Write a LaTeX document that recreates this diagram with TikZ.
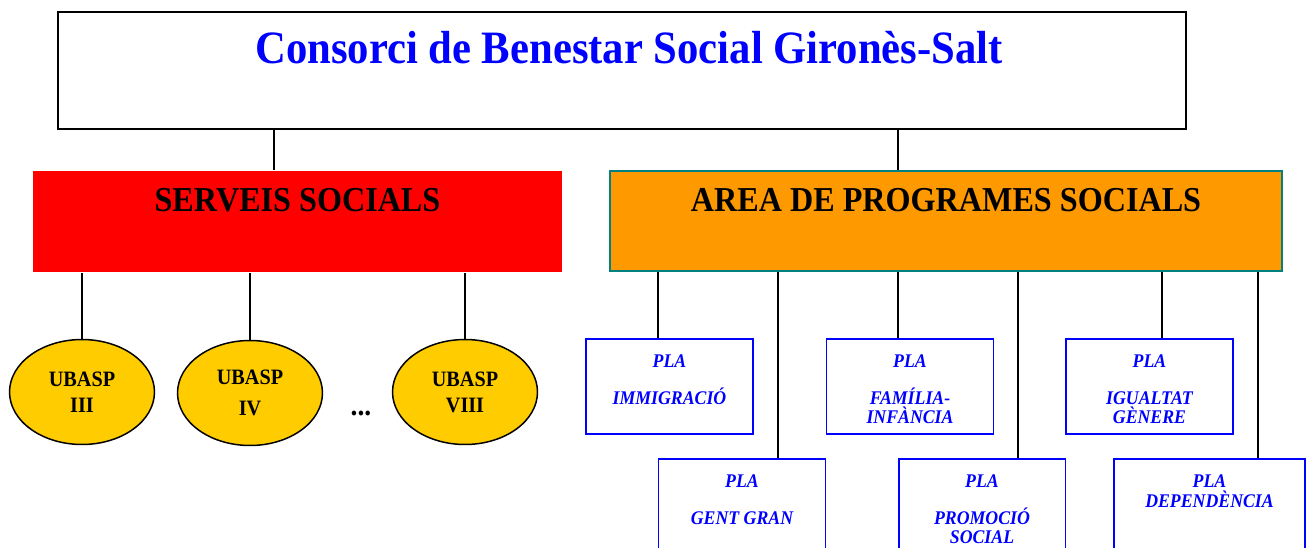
\documentclass[tikz,border=0pt]{standalone}
\usepackage{fontspec}
\setmainfont[FakeStretch=0.92]{Liberation Serif}
\usetikzlibrary{positioning,shapes.geometric}
\definecolor{titleblue}{HTML}{0000FF}
\definecolor{ssred}{HTML}{FF0000}
\definecolor{aporange}{HTML}{FF9900}
\definecolor{apteal}{HTML}{008080}
\definecolor{ubgold}{HTML}{FFCC00}

\begin{document}
\begin{tikzpicture}[x=0.02cm,y=-0.02cm,
	topbox/.style={draw,line width=1.1pt,minimum width=22.56cm,minimum height=2.34cm,inner sep=0pt},
	headbox/.style={minimum height=2.04cm,inner sep=0pt},
	headtext/.style={font=\fontsize{19.9}{23}\selectfont\bfseries,inner sep=0pt},
	ubasp/.style={ellipse,draw,line width=0.85pt,fill=ubgold,minimum width=2.9cm,minimum height=2.1cm,inner sep=0pt,
		align=center,font=\fontsize{12.5}{14.7}\selectfont\bfseries},
	plabox/.style={draw=titleblue,line width=1.1pt,minimum width=3.34cm,minimum height=1.9cm,inner sep=0pt},
	platext/.style={text=titleblue,align=center,inner sep=0pt,font=\fontsize{11}{11.3}\selectfont\bfseries\itshape},
	link/.style={line width=0.85pt}]
	\path[use as bounding box,clip] (0,0) rectangle (1310,547);

	\node[topbox] (cbs) at (622,70.5) {};
	\node[text=titleblue,inner sep=0pt,font=\fontsize{26.4}{30}\selectfont\bfseries] (cbs-t) at (629,48) {Consorci de Benestar Social Gironès-Salt};

	\node[headbox,fill=ssred,minimum width=10.58cm] (ss) at (297.5,221.5) {};
	\node[headtext] (ss-t) at (297.5,200) {SERVEIS SOCIALS};
	\node[headbox,draw=apteal,line width=1.1pt,fill=aporange,minimum width=13.44cm,minimum height=2cm] (aps) at (946,221) {};
	\node[headtext] (aps-t) at (946,200) {AREA DE PROGRAMES SOCIALS};

	\node[ubasp] (u3) at (82,392) {UBASP\\III};
	\node[ubasp] (u4) at (250,393) {UBASP\\[3pt]IV};
	\node[ubasp] (u8) at (465,392) {UBASP\\VIII};
	\node[font=\fontsize{17}{18}\selectfont\bfseries] (dots) at (361,413) {...};

	\node[plabox] (pimm) at (669.5,386.5) {};
	\node[plabox] (pfam) at (910,386.5) {};
	\node[plabox] (pigu) at (1149.5,386.5) {};
	\node[plabox] (pgg) at (742,506.5) {};
	\node[plabox] (ppro) at (982,506.5) {};
	\node[plabox,minimum width=3.82cm] (pdep) at (1209.5,506.5) {};

	\node[platext,below=0.32cm of pimm.north] (pimm-t) {PLA\\[9.7pt]IMMIGRACIÓ};
	\node[platext,below=0.32cm of pfam.north] (pfam-t) {PLA\\[9.7pt]FAMÍLIA-\\INFÀNCIA};
	\node[platext,below=0.32cm of pigu.north] (pigu-t) {PLA\\[9.7pt]IGUALTAT\\GÈNERE};
	\node[platext,below=0.32cm of pgg.north] (pgg-t) {PLA\\[9.7pt]GENT GRAN};
	\node[platext,below=0.32cm of ppro.north] (ppro-t) {PLA\\[9.7pt]PROMOCIÓ\\SOCIAL};
	\node[platext,below=0.32cm of pdep.north] (pdep-t) {PLA\\DEPENDÈNCIA};

	\coordinate (k1) at (274,0);
	\coordinate (k2) at (898,0);
	\coordinate (l1) at (658,0);
	\coordinate (l2) at (778,0);
	\coordinate (l3) at (898,0);
	\coordinate (l4) at (1018,0);
	\coordinate (l5) at (1162,0);
	\coordinate (l6) at (1258,0);

	\draw[link] (k1 |- cbs.south) -- (k1 |- ss.north);
	\draw[link] (k2 |- cbs.south) -- (k2 |- aps.north);
	\draw[link] (ss.south -| u3.north) -- (u3.north);
	\draw[link] (ss.south -| u4.north) -- (u4.north);
	\draw[link] (ss.south -| u8.north) -- (u8.north);
	\draw[link] (l1 |- aps.south) -- (l1 |- pimm.north);
	\draw[link] (l2 |- aps.south) -- (l2 |- pgg.north);
	\draw[link] (l3 |- aps.south) -- (l3 |- pfam.north);
	\draw[link] (l4 |- aps.south) -- (l4 |- ppro.north);
	\draw[link] (l5 |- aps.south) -- (l5 |- pigu.north);
	\draw[link] (l6 |- aps.south) -- (l6 |- pdep.north);
\end{tikzpicture}
\end{document}
